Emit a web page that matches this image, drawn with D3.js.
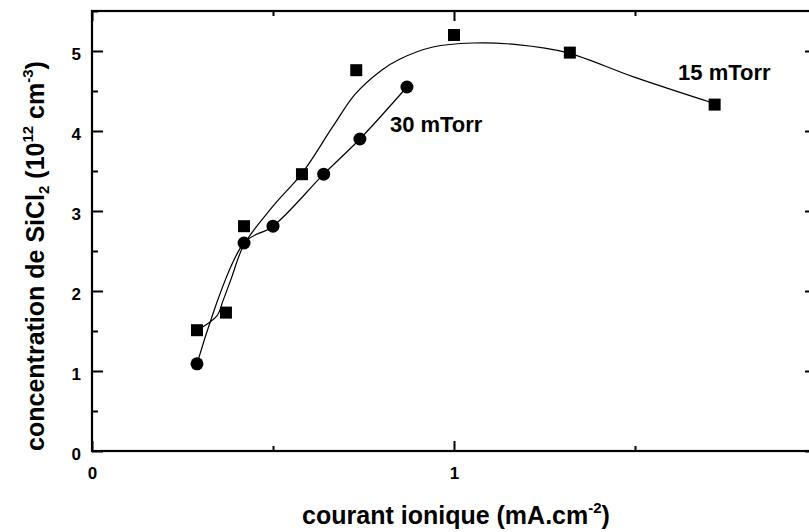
<!DOCTYPE html>
<html><head><meta charset="utf-8">
<script src="https://cdn.jsdelivr.net/npm/d3@7"></script>
<style>
body{margin:0;background:#fff}
svg{display:block}
text{font-family:"Liberation Sans",Arial,sans-serif;font-weight:bold;fill:#000}
</style>
</head><body><svg id="c" width="809" height="532"></svg>
<script>
// 15 mTorr measured points (squares)
const x15 = [0.29, 0.37, 0.42, 0.58, 0.73, 1.00, 1.32, 1.72];
const y15 = [1.51, 1.73, 2.81, 3.46, 4.76, 5.20, 4.98, 4.33];
// 30 mTorr measured points (circles)
const x30 = [0.29, 0.42, 0.50, 0.64, 0.74, 0.87];
const y30 = [1.09, 2.60, 2.81, 3.46, 3.90, 4.55];
// smooth fit curve of 15 mTorr series
const fit15X = [0.290, 0.345, 0.362, 0.385, 0.420, 0.500, 0.580, 0.666, 0.727, 0.800, 0.851, 0.942, 1.052, 1.174, 1.312, 1.494, 1.715];
const fit15Y = [1.51, 1.69, 1.88, 2.16, 2.58, 3.06, 3.47, 4.06, 4.46, 4.76, 4.90, 5.05, 5.10, 5.08, 4.98, 4.68, 4.35];
// axes
const xDomain = [0, 2];
const yDomain = [0, 5.5];
const xMajor = [0, 1, 2];
const xMinor = [0.5, 1.5];
const xTickLabels = ["0", "1", ""];
const yMajor = [0, 1, 2, 3, 4, 5];
const yMinor = [0.5, 1.5, 2.5, 3.5, 4.5, 5.5];
const yTickLabels = ["0", "1", "2", "3", "4", "5"];
const labels = [
  {text: "15 mTorr", x: 1.619, y: 4.64},
  {text: "30 mTorr", x: 0.823, y: 3.99}
];

const L = 92, T = 11, R = 816, B = 451;
const svg = d3.select("#c");
const x = d3.scaleLinear().domain(xDomain).range([L, R]);
const y = d3.scaleLinear().domain(yDomain).range([B, T]);

function styleAxis(g) {
  g.select(".domain").remove();
  g.selectAll(".tick line").attr("stroke", "#000").attr("stroke-width", 2);
  g.selectAll(".tick text").attr("font-size", 17).attr("font-weight", "bold")
    .attr("font-family", '"Liberation Sans",Arial,sans-serif').attr("fill", "#000");
}
svg.append("g").attr("transform", `translate(0,${B})`)
  .call(d3.axisBottom(x).tickValues(xMajor).tickSize(-10).tickPadding(16)
    .tickFormat((d, i) => xTickLabels[i]))
  .call(styleAxis);
svg.append("g").attr("transform", `translate(0,${B})`)
  .call(d3.axisBottom(x).tickValues(xMinor).tickSize(-5).tickFormat(""))
  .call(styleAxis);
svg.append("g").attr("transform", `translate(0,${T})`)
  .call(d3.axisTop(x).tickValues(xMajor).tickSize(-10).tickFormat(""))
  .call(styleAxis);
svg.append("g").attr("transform", `translate(0,${T})`)
  .call(d3.axisTop(x).tickValues(xMinor).tickSize(-5).tickFormat(""))
  .call(styleAxis);
const ly = svg.append("g").attr("transform", `translate(${L},0)`)
  .call(d3.axisLeft(y).tickValues(yMajor).tickSize(-11).tickPadding(11)
    .tickFormat((d, i) => yTickLabels[i]))
  .call(styleAxis);
ly.selectAll(".tick text").attr("dy", "0.5em");
svg.append("g").attr("transform", `translate(${L},0)`)
  .call(d3.axisLeft(y).tickValues(yMinor).tickSize(-6).tickFormat(""))
  .call(styleAxis);
svg.append("g").attr("transform", `translate(${R},0)`)
  .call(d3.axisRight(y).tickValues(yMajor).tickSize(-11).tickFormat(""))
  .call(styleAxis);
svg.append("g").attr("transform", `translate(${R},0)`)
  .call(d3.axisRight(y).tickValues(yMinor).tickSize(-6).tickFormat(""))
  .call(styleAxis);

// frame
svg.append("rect").attr("x", L).attr("y", T).attr("width", R - L).attr("height", B - T)
  .attr("fill", "none").attr("stroke", "#000").attr("stroke-width", 2.2);

// curves
const fit15 = fit15X.map((v, i) => [v, fit15Y[i]]);
const d30 = x30.map((v, i) => [v, y30[i]]);
const d15 = x15.map((v, i) => [v, y15[i]]);
const line = d3.line().x(d => x(d[0])).y(d => y(d[1]));
svg.append("path").attr("d", line.curve(d3.curveCatmullRom.alpha(0.5))(fit15))
  .attr("fill", "none").attr("stroke", "#000").attr("stroke-width", 1.2);
svg.append("path").attr("d", line.curve(d3.curveCatmullRom.alpha(0.5))(d30))
  .attr("fill", "none").attr("stroke", "#000").attr("stroke-width", 1.2);

// markers
const sq = 12;
svg.append("g").selectAll("rect").data(d15).join("rect")
  .attr("x", d => x(d[0]) - sq / 2).attr("y", d => y(d[1]) - sq / 2)
  .attr("width", sq).attr("height", sq).attr("fill", "#000");
svg.append("g").selectAll("circle").data(d30).join("circle")
  .attr("cx", d => x(d[0])).attr("cy", d => y(d[1])).attr("r", 6.5).attr("fill", "#000");

// annotations
svg.append("g").selectAll("text").data(labels).join("text")
  .attr("x", d => x(d.x)).attr("y", d => y(d.y)).attr("font-size", 22).text(d => d.text);

// axis titles
const xt = svg.append("text").attr("x", 456).attr("y", 524).attr("text-anchor", "middle").attr("font-size", 25);
xt.append("tspan").text("courant ionique (mA.cm");
xt.append("tspan").attr("font-size", 15).attr("dy", -11).text("-2");
xt.append("tspan").attr("dy", 11).text(")");

const yt = svg.append("text").attr("transform", "translate(44,256) rotate(-90)")
  .attr("text-anchor", "middle").attr("font-size", 25);
yt.append("tspan").text("concentration de SiCl");
yt.append("tspan").attr("font-size", 15).attr("dy", 5).text("2");
yt.append("tspan").attr("dy", -5).text(" (10");
yt.append("tspan").attr("font-size", 15).attr("dy", -11).text("12");
yt.append("tspan").attr("dy", 11).text(" cm");
yt.append("tspan").attr("font-size", 15).attr("dy", -11).text("-3");
yt.append("tspan").attr("dy", 11).text(")");
</script>
</body></html>
